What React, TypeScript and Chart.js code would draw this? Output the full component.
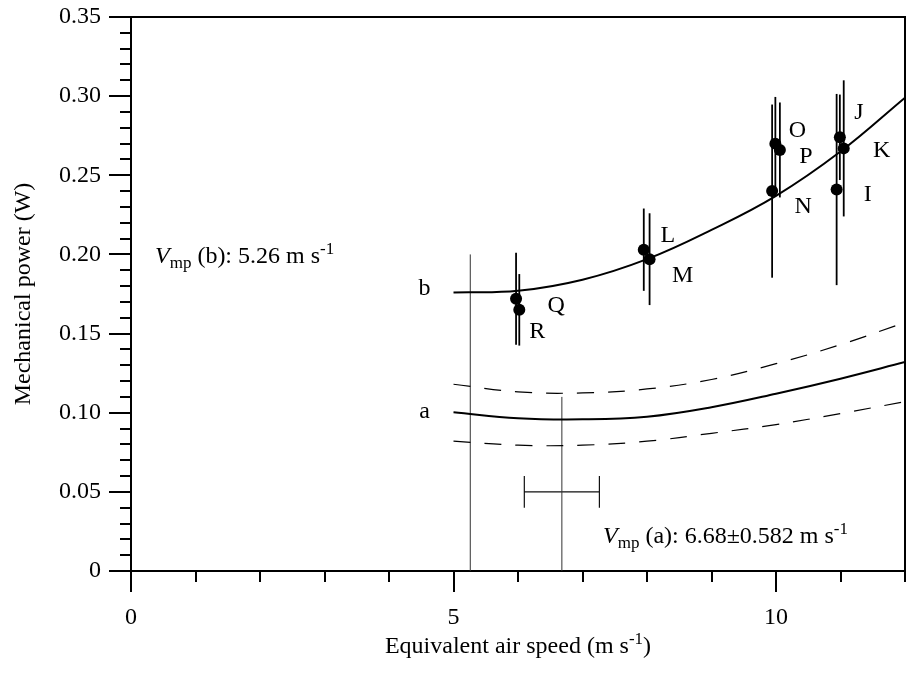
import React, { useEffect, useRef } from 'react';
import { Chart, registerables } from 'chart.js';

Chart.register(...registerables);

const FONT = "'Liberation Serif', 'Times New Roman', serif";
const FS = 24;

// ---------- data ----------
const curveX = [5, 6, 7, 8, 9, 10, 11, 12];
const curveB = [0.176, 0.177, 0.184, 0.197, 0.2155, 0.237, 0.265, 0.299];
const curveA = [0.1003, 0.0965, 0.0958, 0.0975, 0.1035, 0.112, 0.1215, 0.132];
const curveAUpper = [0.118, 0.1132, 0.1125, 0.115, 0.121, 0.131, 0.143, 0.157];
const curveALower = [0.082, 0.0795, 0.0795, 0.082, 0.087, 0.0925, 0.0995, 0.107];

const pointLabels = ['Q', 'R', 'L', 'M', 'N', 'O', 'P', 'I', 'J', 'K'];
const pointX = [5.97, 6.02, 7.95, 8.04, 9.94, 9.99, 10.06, 10.94, 10.99, 11.05];
const pointY = [0.172, 0.165, 0.203, 0.197, 0.24, 0.27, 0.266, 0.241, 0.274, 0.267];
const pointErr = [0.029, 0.0226, 0.026, 0.029, 0.0547, 0.0295, 0.03, 0.0604, 0.027, 0.043];

const vmpB = 5.26;
const vmpBTop = 0.2;
const vmpA = 6.68;
const vmpATop = 0.11;
const vmpAErr = 0.582;
const vmpAErrY = 0.05;
const vmpACapHalf = 0.01;

const xMajorTicks = [0, 5, 10];
const yMajorStep = 0.05;

// ---------- layout (pixel offsets for text) ----------
const labelOffsets: [number, number][] = [
  [40, 7], [18, 22], [24, -14], [33, 17], [31, 16], [22, -13], [26, 7], [31, 5], [19, -25], [38, 2],
];

type Seg = { t: string; italic?: boolean; size?: number; dy?: number };

function drawRich(ctx: CanvasRenderingContext2D, segs: Seg[], x: number, y: number, align: 'left' | 'center') {
  const widths = segs.map((s) => {
    ctx.font = `${s.italic ? 'italic ' : ''}${s.size || FS}px ${FONT}`;
    return ctx.measureText(s.t).width;
  });
  const total = widths.reduce((a, b) => a + b, 0);
  let cx = align === 'center' ? x - total / 2 : x;
  ctx.textAlign = 'left';
  ctx.textBaseline = 'alphabetic';
  segs.forEach((s, i) => {
    ctx.font = `${s.italic ? 'italic ' : ''}${s.size || FS}px ${FONT}`;
    ctx.fillText(s.t, cx, y + (s.dy || 0));
    cx += widths[i];
  });
}

const zeroPad = (s: any) => {
  s.paddingTop = 0;
  s.paddingBottom = 0;
  s.paddingLeft = 0;
  s.paddingRight = 0;
};

const decorPlugin = {
  id: 'decor',
  beforeDatasetsDraw(chart: any) {
    const ctx = chart.ctx as CanvasRenderingContext2D;
    const xs = chart.scales.x;
    const ys = chart.scales.y;
    ctx.save();
    ctx.strokeStyle = '#000';
    ctx.lineWidth = 1.8;
    pointX.forEach((vx, i) => {
      const px = xs.getPixelForValue(vx);
      ctx.beginPath();
      ctx.moveTo(px, ys.getPixelForValue(pointY[i] + pointErr[i]));
      ctx.lineTo(px, ys.getPixelForValue(pointY[i] - pointErr[i]));
      ctx.stroke();
    });
    // horizontal error bar of Vmp(a)
    ctx.lineWidth = 1.2;
    ctx.strokeStyle = '#111';
    const yE = ys.getPixelForValue(vmpAErrY);
    const x1 = xs.getPixelForValue(vmpA - vmpAErr);
    const x2 = xs.getPixelForValue(vmpA + vmpAErr);
    ctx.beginPath();
    ctx.moveTo(x1, yE);
    ctx.lineTo(x2, yE);
    [x1, x2].forEach((cx) => {
      ctx.moveTo(cx, ys.getPixelForValue(vmpAErrY - vmpACapHalf));
      ctx.lineTo(cx, ys.getPixelForValue(vmpAErrY + vmpACapHalf));
    });
    ctx.stroke();
    ctx.restore();
  },
  afterDraw(chart: any) {
    const ctx = chart.ctx as CanvasRenderingContext2D;
    const xs = chart.scales.x;
    const ys = chart.scales.y;
    const { left, right, top, bottom } = chart.chartArea;
    ctx.save();
    ctx.strokeStyle = '#000';
    ctx.lineWidth = 2;
    ctx.beginPath();
    ys.ticks.forEach((t: any) => {
      const r = t.value / yMajorStep;
      const major = Math.abs(r - Math.round(r)) < 1e-6;
      const py = Math.round(ys.getPixelForValue(t.value));
      ctx.moveTo(left - (major ? 22 : 11), py);
      ctx.lineTo(left, py);
    });
    xs.ticks.forEach((t: any) => {
      const major = xMajorTicks.some((m) => Math.abs(m - t.value) < 1e-6);
      const px = Math.round(xs.getPixelForValue(t.value));
      ctx.moveTo(px, bottom);
      ctx.lineTo(px, bottom + (major ? 21 : 11));
    });
    ctx.stroke();
    // frame top & right
    ctx.beginPath();
    ctx.moveTo(left - 22, top);
    ctx.lineTo(right, top);
    ctx.lineTo(right, bottom);
    ctx.stroke();

    // point letters
    ctx.fillStyle = '#000';
    ctx.font = `${FS}px ${FONT}`;
    ctx.textAlign = 'center';
    ctx.textBaseline = 'middle';
    pointLabels.forEach((lab, i) => {
      const px = xs.getPixelForValue(pointX[i]);
      const py = ys.getPixelForValue(pointY[i]);
      ctx.fillText(lab, px + labelOffsets[i][0], py + labelOffsets[i][1]);
    });
    // curve labels
    ctx.fillText('b', xs.getPixelForValue(curveX[0]) - 29, ys.getPixelForValue(curveB[0]) - 4);
    ctx.fillText('a', xs.getPixelForValue(curveX[0]) - 29, ys.getPixelForValue(curveA[0]) - 1);

    // annotations
    drawRich(ctx, [
      { t: 'V', italic: true },
      { t: 'mp', size: 17, dy: 5 },
      { t: ' (b): 5.26 m s' },
      { t: '-1', size: 17, dy: -9 },
    ], left + 24, 263, 'left');
    drawRich(ctx, [
      { t: 'V', italic: true },
      { t: 'mp', size: 17, dy: 5 },
      { t: ' (a): 6.68\u00B10.582 m s' },
      { t: '-1', size: 17, dy: -9 },
    ], 603, 543, 'left');

    // x axis title
    drawRich(ctx, [
      { t: 'Equivalent air speed (m s' },
      { t: '-1', size: 17, dy: -9 },
      { t: ')' },
    ], (left + right) / 2, 653, 'center');
    ctx.restore();
  },
};

export default function App() {
  const ref = useRef<HTMLCanvasElement | null>(null);
  useEffect(() => {
    document.body.style.margin = '0';
    if (!ref.current) return;
    const mk = (ys: number[]) => curveX.map((x, i) => ({ x, y: ys[i] }));
    const chart = new Chart(ref.current, {
      type: 'line',
      data: {
        datasets: [
          { data: mk(curveB), borderColor: '#000', borderWidth: 2, pointRadius: 0, tension: 0.4, fill: false },
          { data: mk(curveA), borderColor: '#000', borderWidth: 2, pointRadius: 0, tension: 0.4, fill: false },
          { data: mk(curveAUpper), borderColor: '#000', borderWidth: 1.2, borderDash: [17, 14], pointRadius: 0, tension: 0.4, fill: false },
          { data: mk(curveALower), borderColor: '#000', borderWidth: 1.2, borderDash: [17, 14], pointRadius: 0, tension: 0.4, fill: false },
          { data: [{ x: vmpB, y: 0 }, { x: vmpB, y: vmpBTop }], borderColor: '#333', borderWidth: 1, pointRadius: 0, fill: false },
          { data: [{ x: vmpA, y: 0 }, { x: vmpA, y: vmpATop }], borderColor: '#333', borderWidth: 1, pointRadius: 0, fill: false },
          {
            data: pointX.map((x, i) => ({ x, y: pointY[i] })),
            showLine: false,
            pointRadius: 6,
            pointBackgroundColor: '#000',
            pointBorderColor: '#000',
            pointBorderWidth: 0,
          },
        ] as any,
      },
      options: {
        responsive: false,
        animation: false,
        events: [],
        layout: { autoPadding: false, padding: { top: 17, right: 8, left: 0, bottom: 0 } },
        plugins: { legend: { display: false }, tooltip: { enabled: false } },
        scales: {
          x: {
            type: 'linear',
            min: 0,
            max: 12,
            afterFit: (s: any) => { s.height = 105; zeroPad(s); },
            grid: { display: false, drawTicks: false },
            border: { display: true, color: '#000', width: 2 },
            ticks: {
              stepSize: 1,
              autoSkip: false,
              maxRotation: 0,
              padding: 32,
              color: '#000',
              font: { family: FONT, size: FS },
              callback: (v: any) => (xMajorTicks.some((m) => Math.abs(m - v) < 1e-6) ? String(Math.round(v)) : ''),
            },
          },
          y: {
            type: 'linear',
            min: 0,
            max: 0.35,
            afterFit: (s: any) => { s.width = 131; zeroPad(s); },
            grid: { display: false, drawTicks: false },
            border: { display: true, color: '#000', width: 2 },
            title: {
              display: true,
              text: 'Mechanical power (W)',
              color: '#000',
              font: { family: FONT, size: FS },
              padding: { top: 9, bottom: 0 },
            },
            ticks: {
              stepSize: 0.01,
              autoSkip: false,
              padding: 30,
              color: '#000',
              font: { family: FONT, size: FS },
              callback: (v: any) => {
                const r = v / yMajorStep;
                if (Math.abs(r - Math.round(r)) > 1e-6) return '';
                return Math.abs(v) < 1e-9 ? '0' : Number(v).toFixed(2);
              },
            },
          },
        },
      } as any,
      plugins: [decorPlugin],
    });
    return () => chart.destroy();
  }, []);
  return <canvas ref={ref} width={913} height={676} style={{ display: 'block' }} />;
}
